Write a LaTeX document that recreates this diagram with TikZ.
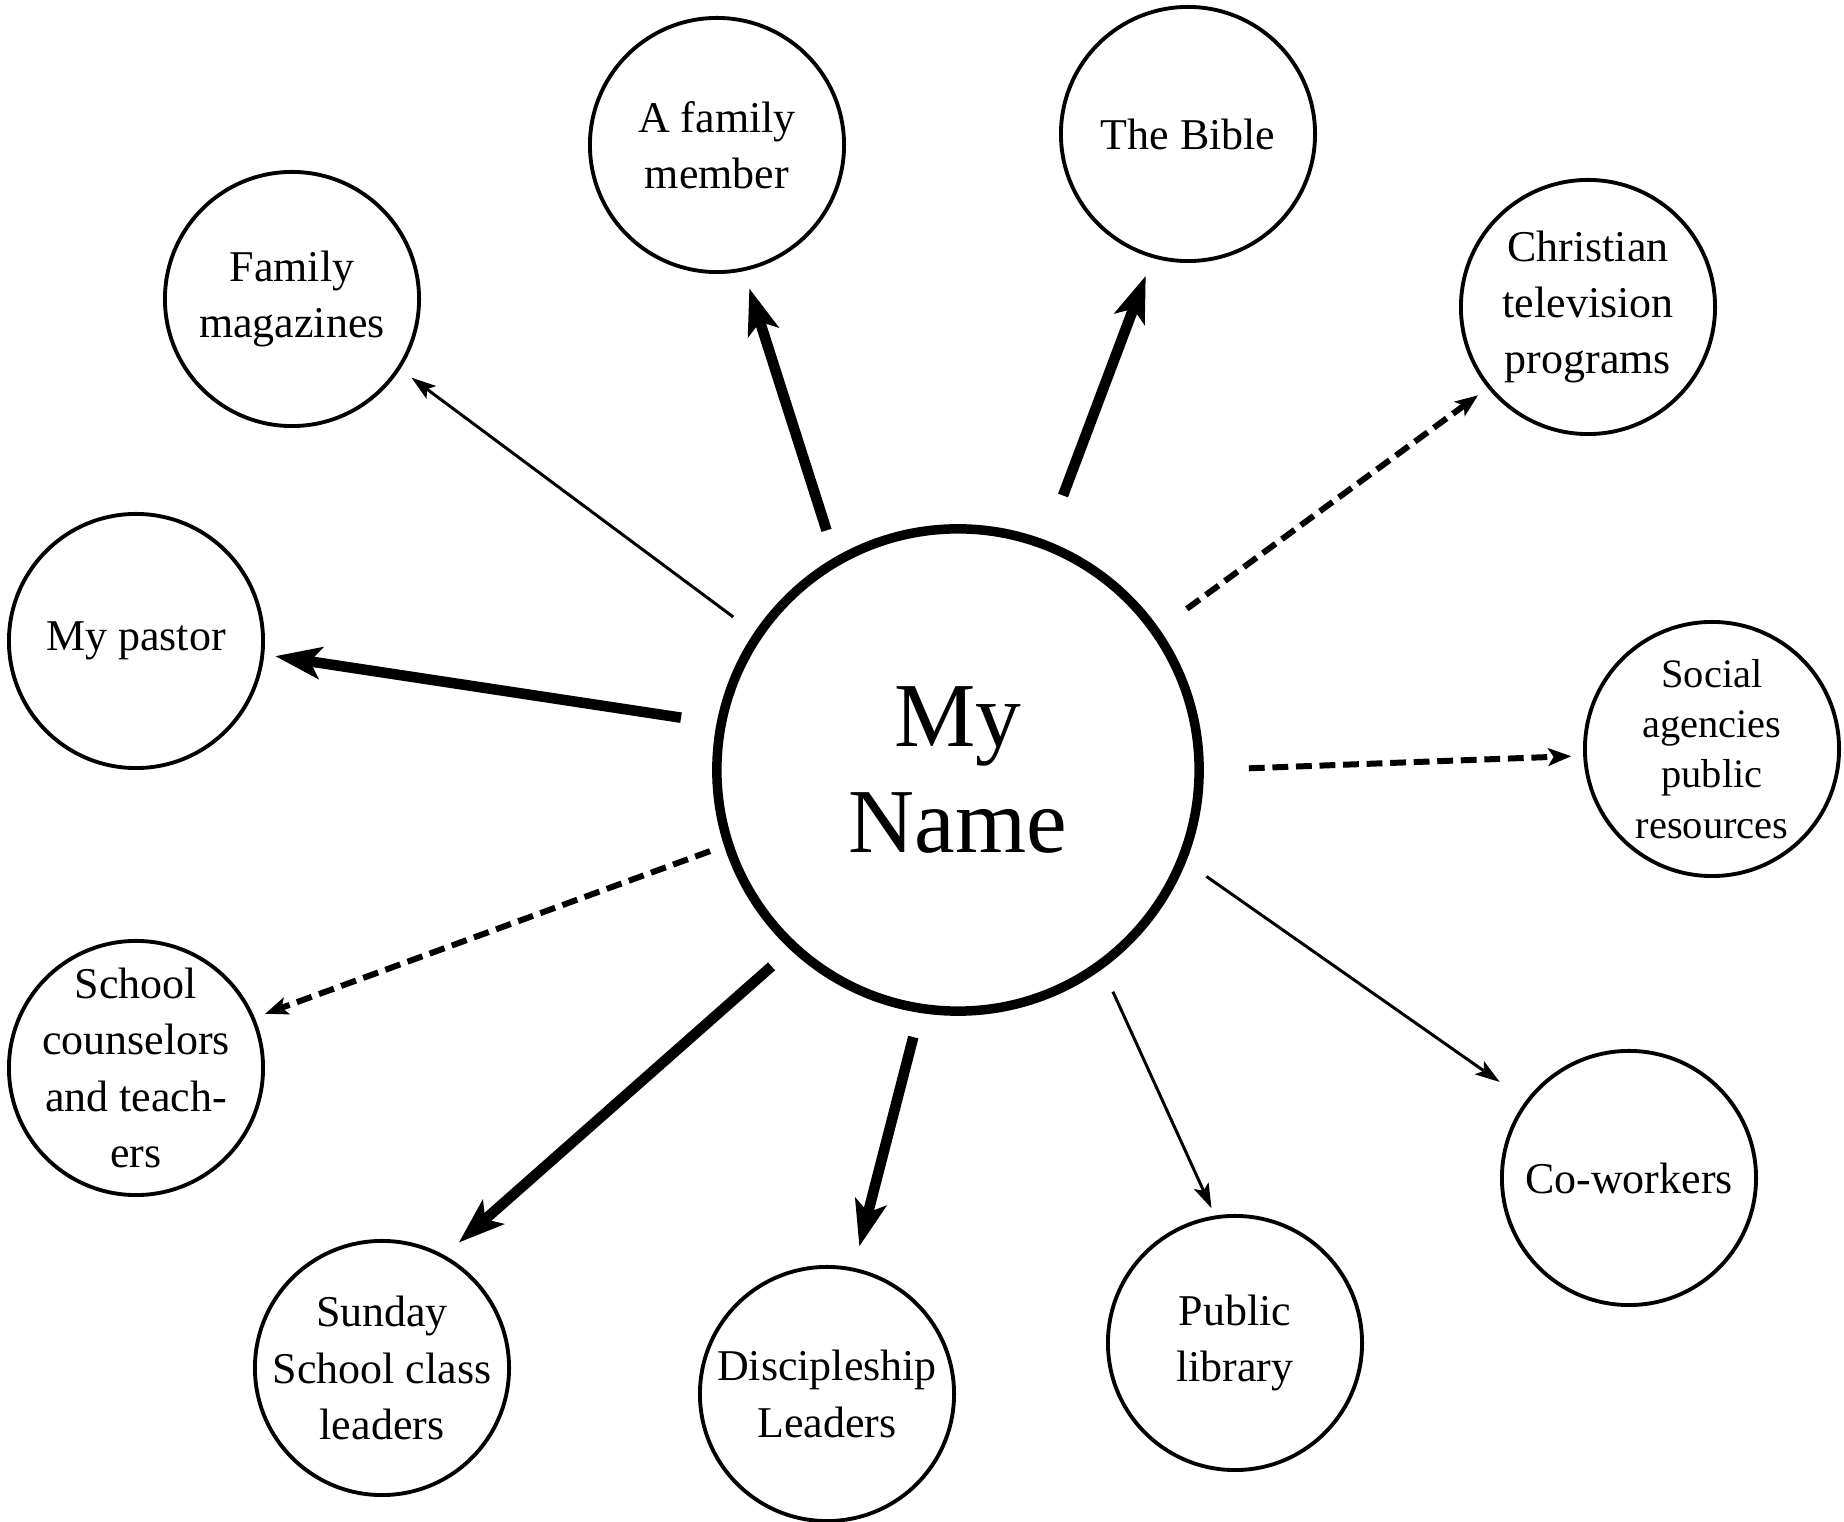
\documentclass[tikz,border=0pt]{standalone}
\usepackage{fontspec}
\setmainfont{Liberation Serif}
\usetikzlibrary{arrows.meta}
\begin{document}
\begin{tikzpicture}[x=0.01cm,y=-0.01cm,
  bubble/.style={circle,draw,line width=1.1pt,minimum size=2.54cm,inner sep=-8pt,align=center,font=\fontsize{12.5}{16}\selectfont},
  smallbubble/.style={bubble,font=\fontsize{11.5}{14.3}\selectfont},
  hub/.style={circle,draw,line width=2.7pt,minimum size=4.82cm,inner sep=0pt,align=center,font=\fontsize{26}{30}\selectfont},
  thickarr/.style={line width=3pt,-{Stealth[length=13pt,width=9pt,inset=3pt]}},
  thinarr/.style={line width=0.85pt,-{Stealth[length=7pt,width=4.5pt,inset=1.5pt]}},
  dasharr/.style={line width=1.7pt,dash pattern=on 4.5pt off 2.2pt,-{Stealth[length=6.5pt,width=5pt,inset=1.5pt]}}]
\useasboundingbox (0,0) rectangle (1844,1522);
\fill[white] (0,0) rectangle (1844,1522);

\node[hub] (hub) at (958,770) {My\\Name};
\node[bubble] (fm) at (292,299) {Family\\magazines};
\node[bubble] (fam) at (717,145) {A family\\member};
\node[bubble] (bible) at (1188,134) {The Bible};
\node[bubble] (ctv) at (1588,307) {Christian\\television\\programs};
\node[smallbubble] (soc) at (1712,749) {Social\\agencies\\public\\resources};
\node[bubble] (cow) at (1629,1178) {Co-workers};
\node[bubble] (lib) at (1235,1343) {Public\\library};
\node[bubble] (disc) at (827,1394) {Discipleship\\Leaders};
\node[bubble] (sun) at (382,1368) {Sunday\\School class\\leaders};
\node[bubble] (sch) at (136,1068) {School\\counselors\\and teach-\\ers};
\node[bubble] (pas) at (136,641) {My pastor};

\draw[thinarr, shorten <=0.26cm, shorten >=0.14cm] (hub.146.7) -- (fm.-33.4);
\draw[thickarr, shorten <=0.28cm, shorten >=0.18cm] (hub.120.7) -- (fam.-78.2);
\draw[thickarr, shorten <=0.48cm, shorten >=0.19cm] (hub.69.3) -- (bible.-106.4);
\draw[dasharr, shorten <=0.34cm, shorten >=0.12cm] (hub.35.8) -- (ctv.-141.2);
\draw[dasharr, shorten <=0.45cm, shorten >=0.12cm] (hub.0) -- (soc.183.9);
\draw[thinarr, shorten <=0.25cm, shorten >=0.32cm] (hub.-22) -- (cow.143);
\draw[thinarr, shorten <=0.25cm, shorten >=0.08cm] (hub.-54.2) -- (lib.99.5);
\draw[thickarr, shorten <=0.25cm, shorten >=0.22cm] (hub.-99.4) -- (disc.78.7);
\draw[thickarr, shorten <=0.25cm, shorten >=0.19cm] (hub.-133.2) -- (sun.61.2);
\draw[dasharr, shorten <=0.15cm, shorten >=0.11cm] (hub.-162.1) -- (sch.23.7);
\draw[thickarr, shorten <=0.36cm, shorten >=0.11cm] (hub.169) -- (pas.-6.4);
\end{tikzpicture}
\end{document}
